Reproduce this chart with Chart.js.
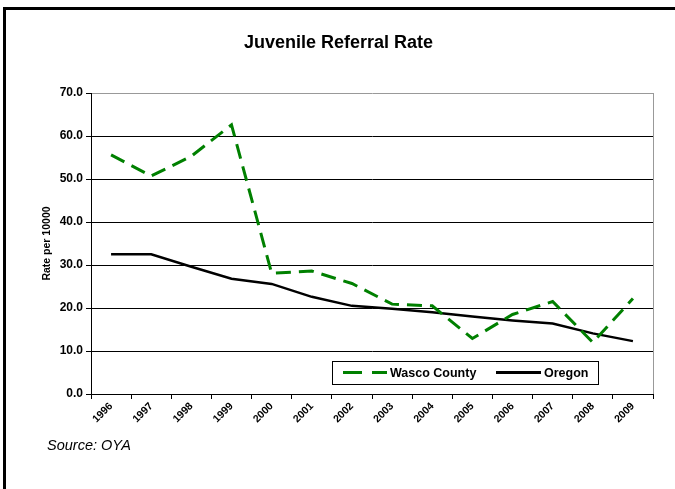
<!DOCTYPE html>
<html>
<head>
<meta charset="utf-8">
<title>Juvenile Referral Rate</title>
<script src="https://cdn.jsdelivr.net/npm/chart.js@4.4.0/dist/chart.umd.min.js"></script>
<style>
  html, body { margin: 0; padding: 0; background: #fff; overflow: hidden; }
  #wrap { position: relative; width: 675px; height: 489px; }
  #frame { position: absolute; left: 3px; top: 7px; width: 700px; height: 500px;
           border-left: 3px solid #000; border-top: 3px solid #000; }
  #chartTitle { position: absolute; left: 0; top: 33px; width: 677px; text-align: center;
                font: bold 18px "Liberation Sans", Arial, sans-serif; line-height: 18px; color: #000; }
  #source { position: absolute; left: 47px; top: 438px;
            font: italic 14.5px "Liberation Sans", Arial, sans-serif; line-height: 14.5px; color: #000; }
  canvas { position: absolute; left: 0; top: 0; }
</style>
</head>
<body>
<div id="wrap">
  <div id="frame"></div>
  <canvas id="chart" width="675" height="489"></canvas>
  <div id="chartTitle">Juvenile Referral Rate</div>
  <div id="source">Source: OYA</div>
</div>
<script>
// Données
const years = ['1996', '1997', '1998', '1999', '2000', '2001', '2002',
               '2003', '2004', '2005', '2006', '2007', '2008', '2009'];
const wascoCounty = [55.6, 50.7, 55.3, 62.6, 28.1, 28.6, 25.7, 20.9, 20.5, 12.9, 18.5, 21.5, 12.0, 22.2];
const oregon = [32.5, 32.5, 29.6, 26.8, 25.6, 22.6, 20.5, 19.8, 19.0, 18.0, 17.1, 16.4, 14.1, 12.3];
const yTicks = [0, 10, 20, 30, 40, 50, 60, 70];

const FONT = '"Liberation Sans", Arial, sans-serif';

// Cadre droit du graphique (gris)
const plotFrame = {
  id: 'plotFrame',
  beforeDatasetsDraw(chart) {
    const { ctx, chartArea } = chart;
    ctx.save();
    ctx.strokeStyle = '#999';
    ctx.lineWidth = 1;
    ctx.beginPath();
    ctx.moveTo(chartArea.right + 0.5, chartArea.top);
    ctx.lineTo(chartArea.right + 0.5, chartArea.bottom);
    ctx.stroke();
    ctx.restore();
  }
};

// Légende encadrée dans la zone du graphique
const boxLegend = {
  id: 'boxLegend',
  afterDraw(chart) {
    const { ctx, chartArea } = chart;
    const w = 266, h = 23;
    const x = chartArea.right - 55 - w;
    const y = chartArea.bottom - 10 - h;
    const midY = y + h / 2;
    ctx.save();
    ctx.fillStyle = '#fff';
    ctx.fillRect(x, y, w, h);
    ctx.strokeStyle = '#000';
    ctx.lineWidth = 1;
    ctx.strokeRect(x + 0.5, y + 0.5, w, h);

    const items = [
      { ds: chart.data.datasets[0], lineX: x + 11, lineW: 44, dash: [19, 10] },
      { ds: chart.data.datasets[1], lineX: x + 164, lineW: 45, dash: [] }
    ];
    items.forEach(it => {
      ctx.strokeStyle = it.ds.borderColor;
      ctx.lineWidth = 3;
      ctx.setLineDash(it.dash);
      ctx.beginPath();
      ctx.moveTo(it.lineX, midY);
      ctx.lineTo(it.lineX + it.lineW, midY);
      ctx.stroke();
      ctx.setLineDash([]);
      ctx.fillStyle = '#000';
      ctx.font = 'bold 12.5px ' + FONT;
      ctx.textBaseline = 'middle';
      ctx.textAlign = 'left';
      ctx.fillText(it.ds.label, it.lineX + it.lineW + 3, midY + 1);
    });
    ctx.restore();
  }
};

const ctx = document.getElementById('chart').getContext('2d');
new Chart(ctx, {
  type: 'line',
  data: {
    labels: years,
    datasets: [
      {
        label: 'Wasco County',
        data: wascoCounty,
        borderColor: '#008000',
        borderWidth: 3,
        borderDash: [15, 8],
        pointRadius: 0,
        tension: 0,
        fill: false
      },
      {
        label: 'Oregon',
        data: oregon,
        borderColor: '#000000',
        borderWidth: 2.5,
        pointRadius: 0,
        tension: 0,
        fill: false
      }
    ]
  },
  options: {
    responsive: false,
    animation: false,
    devicePixelRatio: 1,
    layout: { padding: { left: 0, top: 93, right: 22, bottom: 0 } },
    plugins: {
      legend: { display: false },
      title: { display: false },
      tooltip: { enabled: false }
    },
    scales: {
      x: {
        type: 'category',
        offset: true,
        grid: { offset: true, drawOnChartArea: false, color: '#000', tickLength: 5 },
        border: { color: '#000', width: 1 },
        ticks: {
          autoSkip: false,
          minRotation: 45,
          maxRotation: 45,
          padding: 1,
          color: '#000',
          font: { family: FONT, size: 10.5, weight: 'bold' }
        },
        afterFit(scale) { scale.height = 95; }
      },
      y: {
        min: 0,
        max: 70,
        afterBuildTicks(scale) { scale.ticks = yTicks.map(v => ({ value: v })); },
        grid: {
          color: c => (c.tick && c.tick.value === 70 ? '#999' : '#000'),
          tickColor: '#000',
          tickLength: 5,
          lineWidth: 1
        },
        border: { color: '#000', width: 1 },
        ticks: {
          padding: 3,
          color: '#000',
          font: { family: FONT, size: 12, weight: 'bold' },
          callback: v => Number(v).toFixed(1)
        },
        title: {
          display: true,
          text: 'Rate per 10000',
          color: '#000',
          font: { family: FONT, size: 10.5, weight: 'bold' },
          padding: { top: 41, bottom: 0 }
        },
        afterFit(scale) { scale.width = 91; }
      }
    }
  },
  plugins: [plotFrame, boxLegend]
});
</script>
</body>
</html>
